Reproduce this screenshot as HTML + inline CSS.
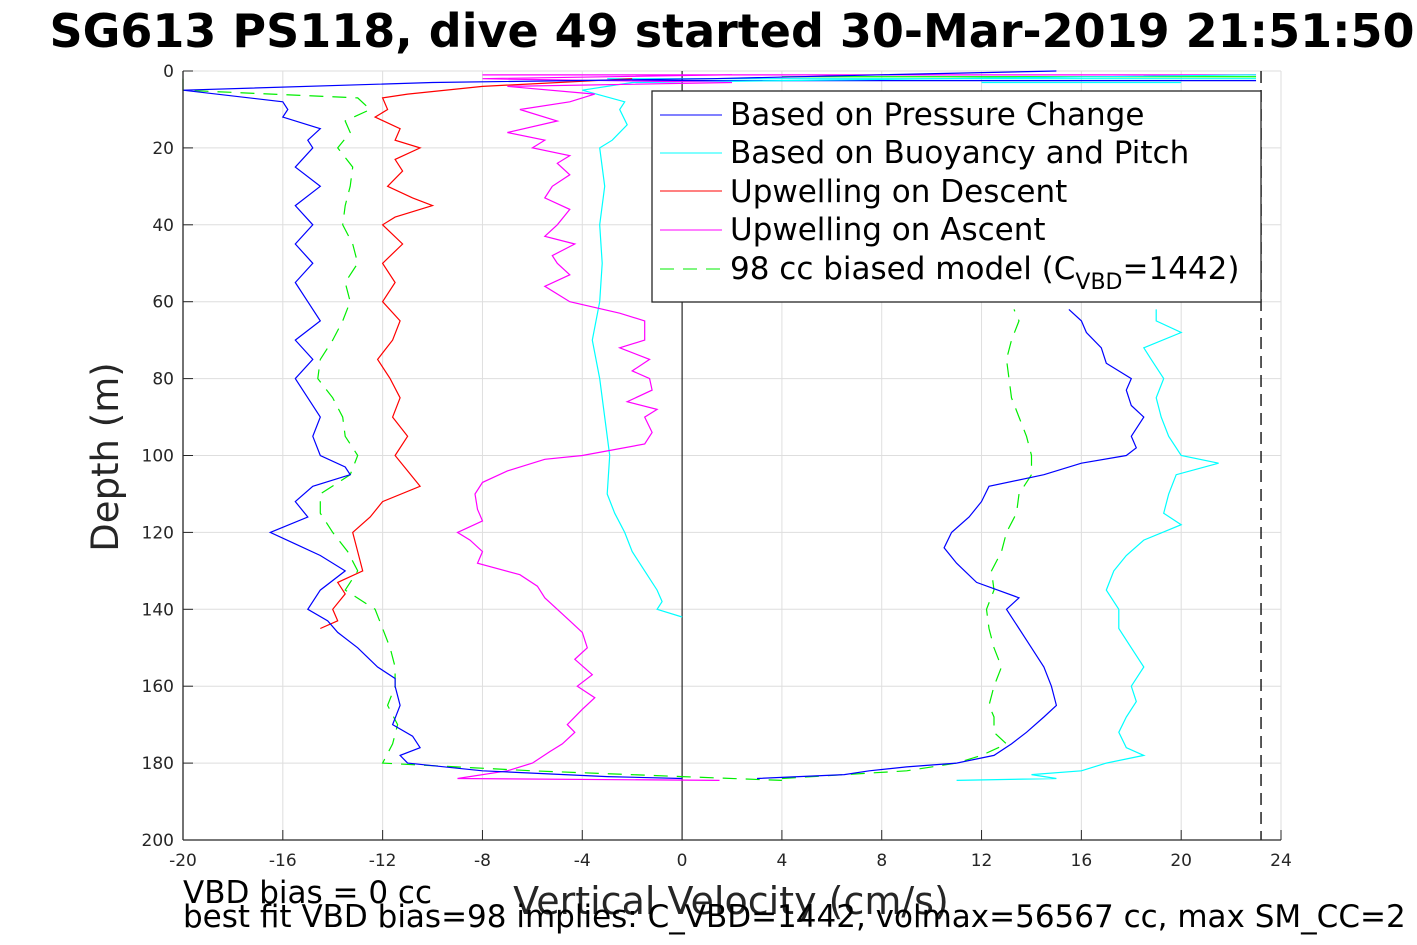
<!DOCTYPE html>
<html><head><meta charset="utf-8"><style>
body{margin:0;background:#fff;}
svg{display:block;font-family:"DejaVu Sans","Liberation Sans",sans-serif;}
</style></head><body>
<svg id="chart" width="1417" height="945"></svg>
<script>
const xTicks=[-20,-16,-12,-8,-4,0,4,8,12,16,20,24];
const yTicks=[0,20,40,60,80,100,120,140,160,180,200];
const blueD=[0,1,2,3,5,8,10,12,15,18,20,25,30,35,40,45,50,55,60,65,70,75,80,85,90,95,100,103,105,108,112,116,120,123,126,130,135,140,143,146,150,155,158,160,165,170,173,176,178,180,182,183.5,184];
const blueDv=[15,8,1.2,-10,-20,-16,-15.8,-16,-14.5,-15,-14.8,-15.5,-14.5,-15.5,-14.8,-15.5,-14.8,-15.5,-15,-14.5,-15.5,-14.8,-15.5,-15,-14.5,-14.8,-14.5,-13.5,-13.3,-14.8,-15.5,-15,-16.5,-15.5,-14.5,-13.5,-14.5,-15,-14.2,-13.8,-13,-12.2,-11.5,-11.5,-11.3,-11.6,-10.8,-10.5,-11.3,-11,-8,-3,0];
const blueA=[184,183,182,181,180,178,175,172,168,165,160,155,150,145,140,137,133,128,124,120,116,112,108,105,102,100,98,95,90,87,83,80,76,72,68,65,62];
const blueAv=[3,6.5,7.5,9,11,12.5,13.2,13.8,14.5,15,14.8,14.5,14,13.5,13,13.5,11.8,11,10.5,10.8,11.5,12,12.3,14.5,16,17.8,18.2,18,18.5,18,17.8,18,17,16.8,16.2,16,15.5];
const cyanD=[1,3,5,8,10,14,18,20,25,30,40,50,60,70,80,90,100,110,115,120,125,130,135,138,140,142];
const cyanDv=[23,-2,-4,-2.3,-2.5,-2.2,-2.8,-3.3,-3.2,-3.1,-3.3,-3.2,-3.3,-3.6,-3.3,-3.1,-2.9,-3,-2.7,-2.3,-2,-1.5,-1,-0.8,-1,0];
const cyanA=[184.5,184,183,182,180,178,176,172,168,164,160,155,150,145,140,135,130,126,122,118,115,110,105,102,100,95,90,85,80,75,72,68,65,62];
const cyanAv=[11,15,14,16,17,18.5,17.8,17.5,17.8,18.2,18,18.5,18,17.5,17.5,17,17.3,17.8,18.5,20,19.3,19.5,19.8,21.5,20,19.5,19.2,19,19.3,18.8,18.5,20,19,19];
const redD=[2,4,6,7,10,12,15,18,20,23,26,30,33,35,38,40,45,50,55,60,65,70,75,80,85,90,95,100,104,108,112,116,120,125,130,133,136,140,143,145];
const redDv=[-2,-8,-11,-12,-11.8,-12.3,-11.3,-11.5,-10.5,-11.5,-11.2,-11.8,-10.8,-10,-11.5,-12,-11.2,-12,-11.5,-12,-11.3,-11.6,-12.2,-11.7,-11.3,-11.6,-11,-11.5,-11,-10.5,-12,-12.5,-13.2,-13,-12.8,-13.8,-13.5,-14,-13.8,-14.5];
const magA=[184.5,184,182,180,177,175,172,170,166,163,160,157,153,150,146,143,140,137,134,131,128,125,122,120,117,114,110,107,104,101,100,97,94,90,88,86,83,80,78,75,72,70,67,65,63,60,56,53,50,48,45,43,40,36,33,30,27,24,22,20,18,16,13,10,8,6,4,3,2,1];
const magAv=[1.5,-9,-7,-6,-5.3,-4.8,-4.3,-4.6,-4,-3.5,-4.2,-3.6,-4.3,-3.8,-4,-4.5,-5,-5.5,-5.8,-6.5,-8.2,-8,-8.5,-9,-8,-8.2,-8.3,-8,-7,-5.5,-4,-1.5,-1.2,-1.5,-1,-2.2,-1.2,-1.3,-2,-1.3,-2.5,-1.5,-1.5,-1.5,-2.5,-4.5,-5.5,-4.5,-5,-5.2,-4.3,-5.5,-5,-4.5,-5.5,-5.2,-4.5,-5,-4.5,-6,-5.5,-7,-5,-6.5,-4.5,-3.5,-7,2,-8,2];
const grnD=[2,5,7,10,13,16,20,25,30,35,40,45,50,55,60,65,70,75,80,85,90,95,100,105,110,115,120,125,130,135,140,145,150,155,160,165,170,175,180,182,183.5,184.5];
const grnDv=[-20,-20,-13,-12.5,-13.5,-13.3,-13.8,-13.2,-13.3,-13.5,-13.6,-13.2,-13,-13.5,-13.3,-13.6,-14,-14.5,-14.6,-14,-13.6,-13.5,-13,-13.3,-14.5,-14.5,-14,-13.4,-13,-13.5,-12.3,-12,-11.7,-11.5,-11.5,-11.8,-11.4,-11.6,-12,-6,0,4];
const grnA=[184,182,180,178,175,172,168,165,160,155,150,145,140,135,130,125,120,115,110,105,100,95,90,85,80,75,70,65,62];
const grnAv=[4,9,11,12,13,12.5,12.5,12.3,12.5,12.8,12.5,12.3,12.2,12.5,12.4,12.8,13,13.4,13.5,14,14,13.8,13.5,13.2,13.1,13,13.2,13.5,13.3];
const topLinesY=[1,1.5,2,2.5,3];
const topLinesX0=[-8,4,-3,-2,12];
const topLinesX1=[23,23,23,23,20];

const svg=document.getElementById('chart');
const NS='http://www.w3.org/2000/svg';
const L=183,R=1281,T=71,B=840;
const xs=v=>L+(v-(-20))/44*(R-L);
const ys=d=>T+d/200*(B-T);
function mk(tag,attrs,parent){const e=document.createElementNS(NS,tag);for(const k in attrs)e.setAttribute(k,attrs[k]);(parent||svg).appendChild(e);return e;}
const bg=mk('rect',{x:L,y:T,width:R-L,height:B-T,fill:'#fff'});


const grid=mk('g',{stroke:'#dedede','stroke-width':1});


xTicks.forEach(t=>mk('line',{x1:xs(t),x2:xs(t),y1:T,y2:B},grid));
yTicks.forEach(t=>mk('line',{x1:L,x2:R,y1:ys(t),y2:ys(t)},grid));
const z=mk('line',{x1:xs(0),x2:xs(0),y1:T,y2:B,stroke:'#000','stroke-width':1});


const dl=mk('line',{x1:xs(23.2),x2:xs(23.2),y1:T,y2:B,stroke:'#222','stroke-width':1.5,'stroke-dasharray':'12,7'});


function series(d,v,color,name,dash){
  const p=d.map((dd,i)=>xs(v[i]).toFixed(1)+','+ys(dd).toFixed(1)).join(' ');
  const e=mk('polyline',{points:p,fill:'none',stroke:color,'stroke-width':1.2});
  if(dash)e.setAttribute('stroke-dasharray',dash);
  
  
}
topLinesY.forEach((y,i)=>{const e=mk('line',{x1:xs(topLinesX0[i]),x2:xs(topLinesX1[i]),y1:ys(y),y2:ys(y),stroke:['#f0f','#0f0','#0ff','#00f','#0ff'][i],'stroke-width':1.2});

});
series(cyanD,cyanDv,'#00ffff','cyan-descent');
series(cyanA,cyanAv,'#00ffff','cyan-ascent');
series(grnD,grnDv,'#00ee00','green-descent','14,9');
series(grnA,grnAv,'#00ee00','green-ascent','14,9');
series(redD,redDv,'#ff0000','red-descent');
series(magA,magAv,'#ff00ff','magenta-ascent');
series(blueD,blueDv,'#0000ff','blue-descent');
series(blueA,blueAv,'#0000ff','blue-ascent');
const ax=mk('g',{stroke:'#262626','stroke-width':1.3,fill:'none'});


mk('line',{x1:L,x2:L,y1:T,y2:B},ax);mk('line',{x1:L,x2:R,y1:B,y2:B},ax);
const tk=mk('g',{fill:'#262626','font-size':17});


xTicks.forEach(t=>{mk('line',{x1:xs(t),x2:xs(t),y1:B,y2:B-10,stroke:'#262626'},tk);const e=mk('text',{x:xs(t),y:B+26,'text-anchor':'middle'},tk);e.textContent=t;});
yTicks.forEach(t=>{mk('line',{x1:L,x2:L+10,y1:ys(t),y2:ys(t),stroke:'#262626'},tk);const e=mk('text',{x:L-9,y:ys(t)+6,'text-anchor':'end'},tk);e.textContent=t;});
</script>
<svg width="1417" height="945" style="position:absolute;left:0;top:0">
<text x="732" y="47" text-anchor="middle" font-size="46" font-weight="bold" font-family="DejaVu Sans,sans-serif">SG613 PS118, dive 49 started 30-Mar-2019 21:51:50</text>
<text transform="translate(118,457) rotate(-90)" text-anchor="middle" font-size="37" fill="#262626" font-family="DejaVu Sans,sans-serif">Depth (m)</text>
<text x="731" y="914" text-anchor="middle" font-size="38" fill="#262626" font-family="DejaVu Sans,sans-serif">Vertical Velocity (cm/s)</text>
<text x="183" y="903" font-size="31" font-family="DejaVu Sans,sans-serif">VBD bias = 0 cc</text>
<text x="183" y="927" font-size="31" font-family="DejaVu Sans,sans-serif">best fit VBD bias=98 implies: C_VBD=1442, volmax=56567 cc, max SM_CC=2</text>
<g font-family="DejaVu Sans,sans-serif" font-size="31">
<rect x="652" y="91" width="609" height="211" fill="#fff" stroke="#262626" stroke-width="1.3"/>
<line x1="660" x2="722" y1="115" y2="115" stroke="#00f"/><text x="730" y="125">Based on Pressure Change</text>
<line x1="660" x2="722" y1="153" y2="153" stroke="#0ff"/><text x="730" y="163">Based on Buoyancy and Pitch</text>
<line x1="660" x2="722" y1="191" y2="191" stroke="#f00"/><text x="730" y="202">Upwelling on Descent</text>
<line x1="660" x2="722" y1="230" y2="230" stroke="#f0f"/><text x="730" y="240">Upwelling on Ascent</text>
<line x1="660" x2="722" y1="269" y2="269" stroke="#0e0" stroke-dasharray="14,9"/><text x="730" y="279">98 cc biased model (C<tspan font-size="22" dy="10">VBD</tspan><tspan dy="-10">=1442)</tspan></text>
</g>
</svg>
</body></html>
